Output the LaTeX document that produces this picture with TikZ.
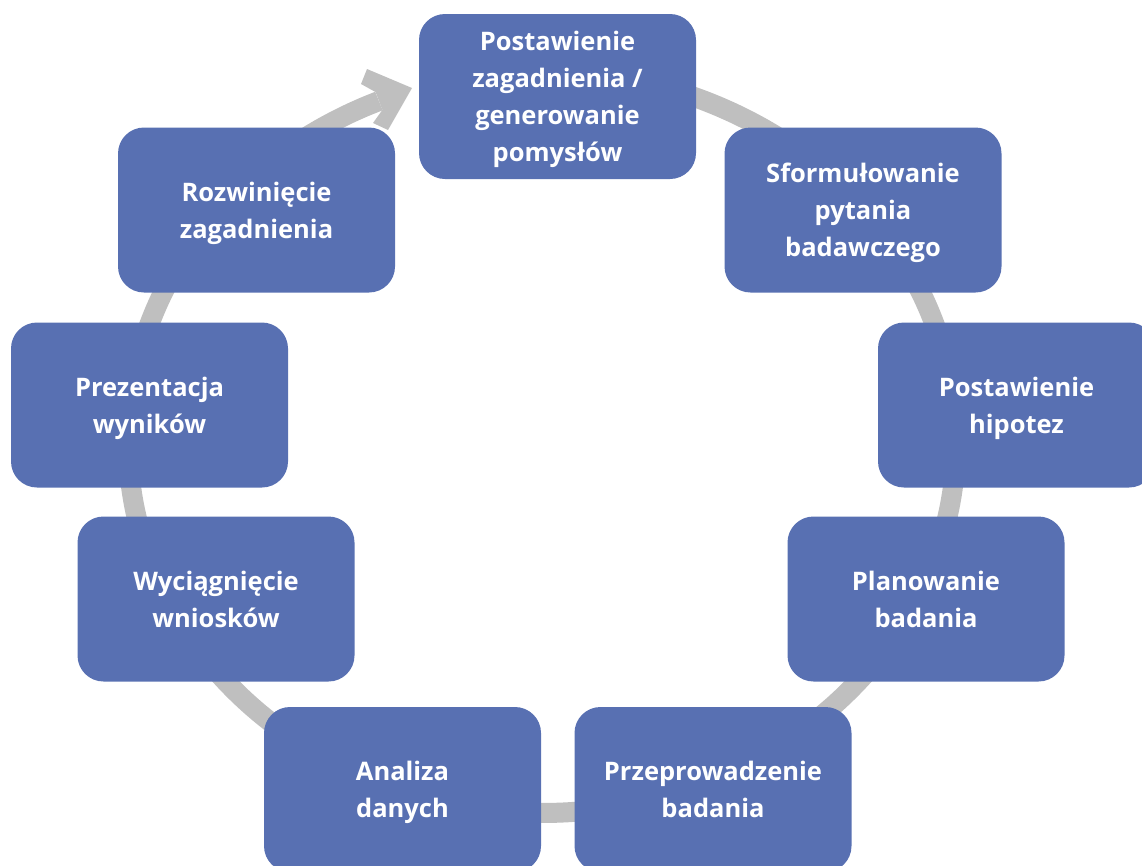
\documentclass[tikz,border=0pt]{standalone}
\usepackage{fontspec}
\setmainfont{Open Sans}
\usetikzlibrary{calc}
\definecolor{stepblue}{RGB}{88,112,178}
\definecolor{ringgray}{RGB}{191,191,191}

\begin{document}
\begin{tikzpicture}[x=1pt,y=-1pt]
			\tikzset{phase/.style={fill=stepblue, rounded corners=26pt,
					minimum width=277pt, minimum height=165pt, inner sep=0pt,
					text depth=0pt,
					text=white, align=center, font=\fontsize{25.5}{37}\selectfont\bfseries}}
			\tikzset{ring/.style={draw=ringgray, line width=20pt}}
			\useasboundingbox (0,0) rectangle (1142,865);
			% ring and its arrow head, behind the boxes
			\draw[ring] plot[domain=-80:246.8, samples=150, smooth] ({542+414*cos(\x)},{442+371*sin(\x)});
			\fill[ringgray] (375.6,92.1) -- (361,84) -- (367,69) -- (412,88) -- (388,130) -- (373,123) -- (382.4,109.9) -- cycle;
			% the nine steps
			\node[phase] (idea) at (557.5,96.5) {Postawienie\\zagadnienia /\\generowanie\\pomysłów};
			\node[phase] (question) at (863,210) {Sformułowanie\\pytania\\badawczego};
			\node[phase] (hypo) at (1016.5,405) {Postawienie\\hipotez};
			\node[phase] (plan) at (926,599) {Planowanie\\badania};
			\node[phase] (run) at (713,789.5) {Przeprowadzenie\\badania};
			\node[phase] (data) at (402.5,789.5) {Analiza\\danych};
			\node[phase] (concl) at (216,599) {Wyciągnięcie\\wniosków};
			\node[phase] (present) at (149.5,405) {Prezentacja\\wyników};
			\node[phase] (extend) at (256.5,210) {Rozwinięcie\\zagadnienia};
\end{tikzpicture}
\end{document}
